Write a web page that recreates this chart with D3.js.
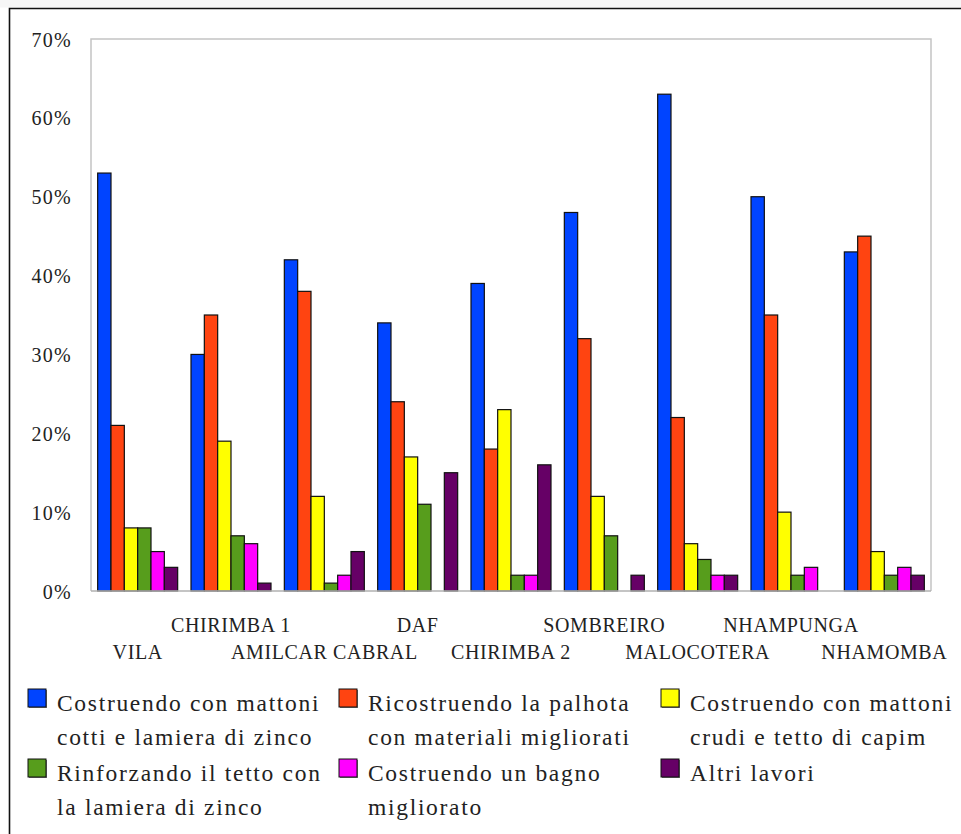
<!DOCTYPE html>
<html>
<head>
<meta charset="utf-8">
<script src="https://cdn.jsdelivr.net/npm/d3@7"></script>
<style>
  html, body { margin: 0; padding: 0; background: #ffffff; }
  svg { display: block; }
  svg text { font-family: "Liberation Serif", "Times New Roman", "DejaVu Serif", serif; fill: #222; }
</style>
</head>
<body>
<svg id="chart" width="961" height="834"></svg>
<script>
// Sites surveyed
const categories = ["VILA", "CHIRIMBA 1", "AMILCAR CABRAL", "DAF", "CHIRIMBA 2",
                    "SOMBREIRO", "MALOCOTERA", "NHAMPUNGA", "NHAMOMBA"];

// Type of housing work (legend entries, two lines each)
const seriesNames = [
  ["Costruendo con mattoni", "cotti e lamiera di zinco"],
  ["Ricostruendo la palhota", "con materiali migliorati"],
  ["Costruendo con mattoni", "crudi e tetto di capim"],
  ["Rinforzando il tetto con", "la lamiera di zinco"],
  ["Costruendo un bagno", "migliorato"],
  ["Altri lavori"]
];
const seriesColors = ["#0044ff", "#ff4411", "#ffff00", "#579d1c", "#ff00ff", "#660066"];

// Percentages per series, one value per site
const mattoniCotti   = [53, 30, 42, 34, 39, 48, 63, 50, 43];
const palhota        = [21, 35, 38, 24, 18, 32, 22, 35, 45];
const mattoniCrudi   = [ 8, 19, 12, 17, 23, 12,  6, 10,  5];
const tettoZinco     = [ 8,  7,  1, 11,  2,  7,  4,  2,  2];
const bagno          = [ 5,  6,  2,  0,  2,  0,  2,  3,  3];
const altri          = [ 3,  1,  5, 15, 16,  2,  2,  0,  2];
const seriesValues = [mattoniCotti, palhota, mattoniCrudi, tettoZinco, bagno, altri];

const yTicks = [0, 10, 20, 30, 40, 50, 60, 70];

const svg = d3.select("#chart");
const serif = "'Liberation Serif', 'Times New Roman', serif";

// outer frame
svg.append("rect").attr("x", 0).attr("y", 0).attr("width", 961).attr("height", 7.5).attr("fill", "#f6f6f6");
svg.append("path").attr("d", "M9.5,834 V8.5 H961")
  .attr("fill", "none").attr("stroke", "#111").attr("stroke-width", 1.6);

const plot = { left: 91, right: 931, top: 39, bottom: 591 };

const x0 = d3.scaleBand().domain(categories)
  .range([plot.left, plot.right]).paddingInner(1 / 7).paddingOuter(1 / 14);
const x1 = d3.scaleBand().domain(d3.range(seriesValues.length))
  .range([0, x0.bandwidth()]);
const y = d3.scaleLinear().domain([0, 70]).range([plot.bottom, plot.top]);

// plot area border (top, left, right)
svg.append("path")
  .attr("d", `M${plot.left},${plot.bottom} V${plot.top} H${plot.right} V${plot.bottom}`)
  .attr("fill", "none").attr("stroke", "#c4c4c4").attr("stroke-width", 1.5);

// y axis labels
const yAxis = d3.axisLeft(y).tickValues(yTicks).tickSize(0).tickPadding(19)
  .tickFormat(d => d + "%");
const gy = svg.append("g").attr("transform", `translate(${plot.left},0)`).call(yAxis);
gy.attr("font-family", serif);
gy.select(".domain").remove();
gy.selectAll("text").attr("font-size", 20).attr("letter-spacing", 1.3)
  .attr("fill", "#333").style("font-family", serif).attr("dy", "0.35em");

// bars
const groups = svg.append("g").selectAll("g").data(categories).join("g")
  .attr("transform", d => `translate(${x0(d)},0)`);
groups.selectAll("rect")
  .data((d, i) => seriesValues.map((vals, s) => ({ s, v: vals[i] })).filter(e => e.v > 0))
  .join("rect")
  .attr("x", d => x1(d.s))
  .attr("y", d => y(d.v))
  .attr("width", x1.bandwidth())
  .attr("height", d => y(0) - y(d.v))
  .attr("fill", d => seriesColors[d.s])
  .attr("stroke", "#111").attr("stroke-width", 1.2);

// baseline
svg.append("line").attr("x1", plot.left).attr("x2", plot.right)
  .attr("y1", plot.bottom).attr("y2", plot.bottom)
  .attr("stroke", "#b0b0b0").attr("stroke-width", 1.5);

// category labels, staggered on two rows
const xAxis = d3.axisBottom(x0).tickSize(0).tickPadding(0);
const gx = svg.append("g").attr("transform", `translate(0,${plot.bottom})`).call(xAxis);
gx.attr("font-family", serif);
gx.select(".domain").remove();
gx.selectAll("text")
  .attr("y", (d, i) => i % 2 === 1 ? 41 : 68)
  .attr("dy", 0)
  .attr("font-size", 20).attr("letter-spacing", 0.6)
  .attr("fill", "#222").style("font-family", serif);

// legend
const legendCols = [28, 339, 661];
const legendRows = [689, 759];
const legend = svg.append("g").attr("font-family", serif);
seriesNames.forEach((lines, i) => {
  const lx = legendCols[i % 3], ly = legendRows[Math.floor(i / 3)];
  legend.append("rect").attr("x", lx + 1).attr("y", ly + 1).attr("width", 18).attr("height", 18)
    .attr("fill", "#777");
  legend.append("rect").attr("x", lx).attr("y", ly).attr("width", 18).attr("height", 18)
    .attr("fill", seriesColors[i]).attr("stroke", "#111").attr("stroke-width", 1);
  const t = legend.append("text").attr("x", lx + 29).attr("y", ly + 22)
    .attr("font-size", 23.5).attr("letter-spacing", 1.7).style("font-family", serif);
  lines.forEach((ln, k) => {
    t.append("tspan").attr("x", lx + 29).attr("dy", k === 0 ? 0 : 34).text(ln);
  });
});
</script>
</body>
</html>
